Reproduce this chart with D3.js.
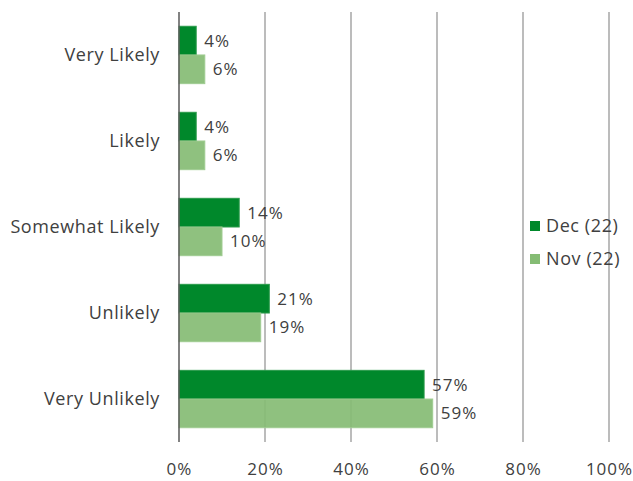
<!DOCTYPE html>
<html>
<head>
<meta charset="utf-8">
<script src="https://cdn.jsdelivr.net/npm/d3@7"></script>
<style>
  html, body { margin: 0; padding: 0; background: #fff; }
  svg text { font-family: "Open Sans", sans-serif; fill: #404040; }
</style>
</head>
<body>
<svg id="chart" width="633" height="481"></svg>
<script>
// Likelihood responses, share of respondents (%)
const categories = ["Very Likely", "Likely", "Somewhat Likely", "Unlikely", "Very Unlikely"];
const seriesNames = ["Dec (22)", "Nov (22)"];
const decValues = [4, 4, 14, 21, 57];
const novValues = [6, 6, 10, 19, 59];
const tickValues = [0, 20, 40, 60, 80, 100];

const colors = { "Dec (22)": "#00882b", "Nov (22)": "#85bc74" };
const fontFamily = "'Open Sans', sans-serif";

const svg = d3.select("#chart");
const margin = { left: 179, right: 24, top: 12, bottom: 39 };
const width = 633, height = 481;

const x = d3.scaleLinear().domain([0, 100]).range([margin.left, 609]);
const y = d3.scaleBand().domain(categories).range([margin.top, height - margin.bottom]).paddingInner(0.333).paddingOuter(0.166);
const ySub = d3.scaleBand().domain(seriesNames).range([0, y.bandwidth()]);

const rows = categories.map((c, i) => ({
  category: c,
  values: [
    { series: "Dec (22)", value: decValues[i] },
    { series: "Nov (22)", value: novValues[i] }
  ]
}));

// Vertical gridlines
svg.append("g")
  .selectAll("line")
  .data(tickValues.filter(t => t > 0))
  .join("line")
  .attr("x1", d => x(d)).attr("x2", d => x(d))
  .attr("y1", margin.top).attr("y2", height - margin.bottom)
  .attr("stroke", "#a6a6a6").attr("stroke-width", 1.5);

// Bars
const groups = svg.append("g")
  .selectAll("g")
  .data(rows)
  .join("g")
  .attr("transform", d => `translate(0,${y(d.category)})`);

groups.selectAll("rect")
  .data(d => d.values)
  .join("rect")
  .attr("x", x(0))
  .attr("y", d => ySub(d.series))
  .attr("width", d => x(d.value) - x(0))
  .attr("height", ySub.bandwidth())
  .attr("fill", d => colors[d.series])
  .attr("fill-opacity", d => d.series === "Nov (22)" ? 0.92 : 1)
  .attr("stroke", d => d.series === "Nov (22)" ? "#9fcc91" : "#2a9a4a")
  .attr("stroke-width", 1);

groups.selectAll("text")
  .data(d => d.values)
  .join("text")
  .attr("x", d => x(d.value) + 8)
  .attr("y", d => ySub(d.series) + ySub.bandwidth() / 2)
  .attr("dy", "0.35em")
  .attr("font-size", 17)
  .attr("letter-spacing", 1)
  .text(d => d.value + "%");

// Zero axis line
svg.append("line")
  .attr("x1", x(0)).attr("x2", x(0))
  .attr("y1", margin.top).attr("y2", height - margin.bottom)
  .attr("stroke", "#595959").attr("stroke-width", 1.5);

// Category labels
const yAxis = svg.append("g")
  .attr("transform", `translate(${x(0) - 19},0)`)
  .call(d3.axisLeft(y).tickSize(0).tickPadding(0));
yAxis.select(".domain").remove();
yAxis.selectAll("text").attr("font-size", 18).attr("fill", "#404040")
  .attr("letter-spacing", 0.6)
  .style("font-family", fontFamily);

// Percentage ticks
const xAxis = svg.append("g")
  .attr("transform", `translate(0,${height - margin.bottom})`)
  .call(d3.axisBottom(x).tickValues(tickValues).tickFormat(d => d + "%").tickSize(0).tickPadding(21));
xAxis.select(".domain").remove();
xAxis.selectAll("text").attr("font-size", 17).attr("fill", "#404040")
  .attr("letter-spacing", 1)
  .style("font-family", fontFamily);

// Legend
const legend = svg.append("g").attr("transform", "translate(530,226)");
const items = legend.selectAll("g")
  .data(seriesNames)
  .join("g")
  .attr("transform", (d, i) => `translate(0,${i * 33})`);
items.append("rect")
  .attr("x", 0).attr("y", -5).attr("width", 10).attr("height", 10)
  .attr("fill", d => colors[d]);
items.append("text")
  .attr("x", 16).attr("y", 0).attr("dy", "0.35em")
  .attr("font-size", 18)
  .attr("letter-spacing", 0.6)
  .text(d => d);
</script>
</body>
</html>
